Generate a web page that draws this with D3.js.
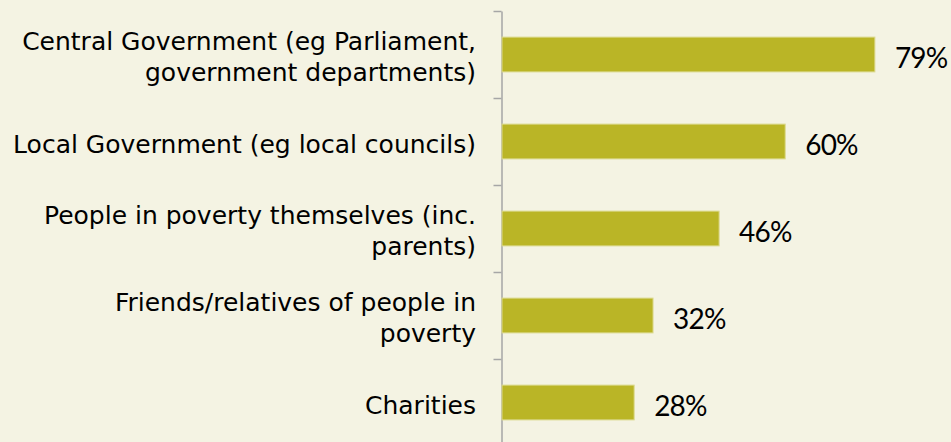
<!DOCTYPE html>
<html>
<head>
<meta charset="utf-8">
<script src="https://cdn.jsdelivr.net/npm/d3@7"></script>
<style>
	html, body { margin: 0; padding: 0; background: #f4f3e3; }
	svg { display: block; }
</style>
</head>
<body>
<svg id="chart" width="951" height="442"></svg>
<script>
// data
const categories = [
	"Central Government (eg Parliament,\ngovernment departments)",
	"Local Government (eg local councils)",
	"People in poverty themselves (inc.\nparents)",
	"Friends/relatives of people in\npoverty",
	"Charities"
];
const values = [79, 60, 46, 32, 28];
const valueLabels = ["79%", "60%", "46%", "32%", "28%"];

const width = 951, height = 442;
const svg = d3.select("#chart");

svg.append("rect")
	.attr("width", width).attr("height", height)
	.attr("fill", "#f4f3e3");

const x = d3.scaleLinear().domain([0, 100]).range([502, 974]);
const y = d3.scaleBand()
	.domain(categories)
	.range([11, 446])
	.paddingInner(0.6)
	.paddingOuter(0.3);

// axis with ticks between categories
const edges = d3.scaleLinear().domain([0, categories.length]).range([11, 446]);
const axis = svg.append("g")
	.attr("transform", "translate(501.5,0)")
	.call(d3.axisLeft(edges)
		.tickValues(d3.range(categories.length + 1))
		.tickSize(8)
		.tickSizeOuter(0)
		.tickFormat(""));
axis.selectAll("path, line").attr("stroke", "#a6a6a6").attr("stroke-width", 1.5);

// bars
svg.append("g").selectAll("rect")
	.data(values)
	.join("rect")
	.attr("x", x(0))
	.attr("y", (d, i) => y(categories[i]))
	.attr("width", d => x(d) - x(0))
	.attr("height", y.bandwidth())
	.attr("fill", "#bab526")
	.attr("stroke", "#dcd98e")
	.attr("stroke-width", 1);

// value labels
svg.append("g").selectAll("text")
	.data(values)
	.join("text")
	.attr("x", d => x(d) + 20)
	.attr("y", (d, i) => y(categories[i]) + y.bandwidth() / 2 + 13)
	.attr("font-family", "Lato, 'Open Sans', sans-serif")
	.attr("font-size", 28)
	.attr("letter-spacing", -0.8)
	.attr("fill", "#000")
	.text((d, i) => valueLabels[i]);

// category labels
const lineGap = 31;
const cat = svg.append("g").selectAll("text")
	.data(categories)
	.join("text")
	.attr("text-anchor", "end")
	.attr("font-family", "'DejaVu Sans', sans-serif")
	.attr("font-size", 25)
	.attr("fill", "#000");

cat.each(function(d) {
	const lines = d.split("\n");
	const cy = y(d) + y.bandwidth() / 2 + 11;
	const top = cy - (lines.length - 1) * lineGap / 2;
	d3.select(this).selectAll("tspan")
		.data(lines)
		.join("tspan")
		.attr("x", 476)
		.attr("y", (l, j) => top + j * lineGap)
		.text(l => l);
});
</script>
</body>
</html>
